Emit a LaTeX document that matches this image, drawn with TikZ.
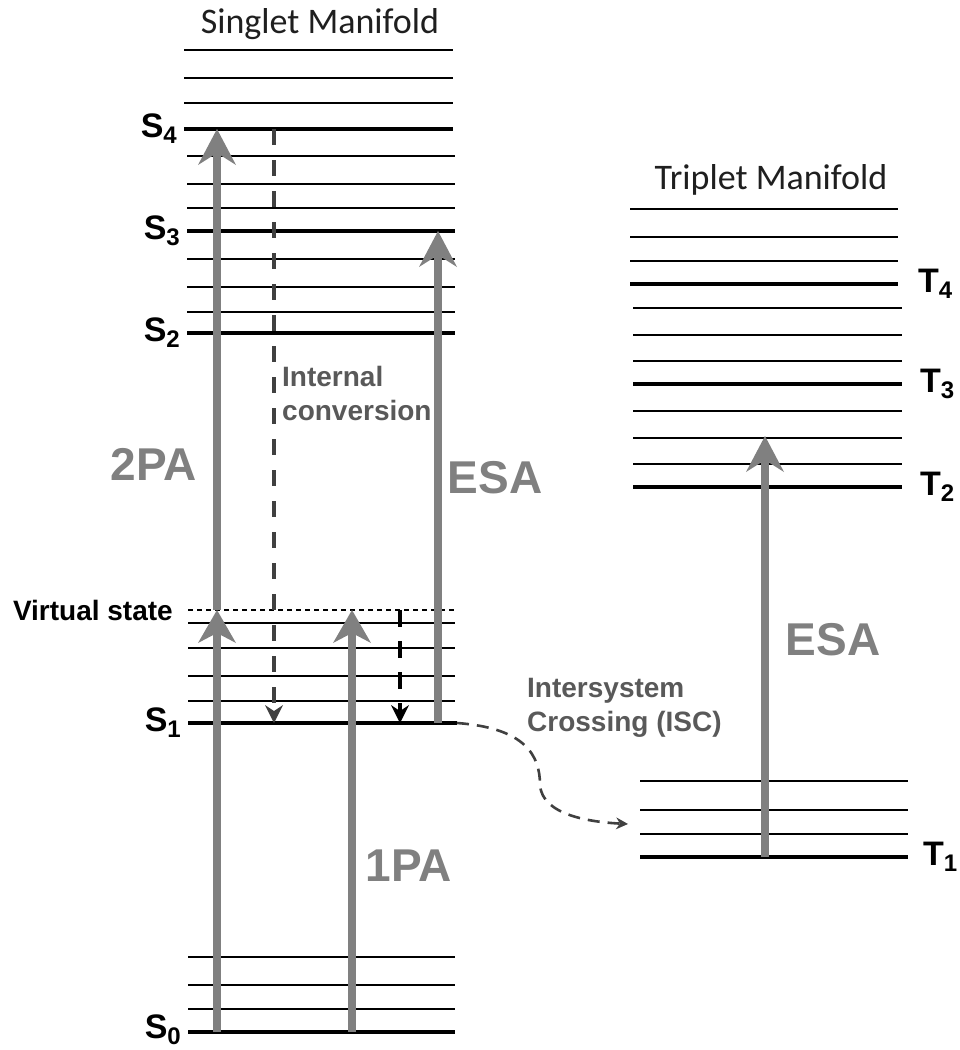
\documentclass[tikz,border=0pt]{standalone}
\usepackage{fontspec}
\setmainfont{Liberation Sans}
\newfontfamily\titlefont{Carlito}
\usetikzlibrary{arrows.meta,positioning}
\definecolor{arrowgray}{RGB}{128,128,128}
\definecolor{dashgray}{RGB}{64,64,64}
\definecolor{notegray}{RGB}{89,89,89}
\newcommand\lvlsub[1]{\raisebox{-6pt}{\fontsize{24}{24}\selectfont #1}}

\begin{document}
\begin{tikzpicture}[x=1pt, y=-1pt,
  sublevel/.style={line width=1.4pt},
  mainlevel/.style={line width=4pt},
  virtlevel/.style={line width=1.1pt, dash pattern=on 5pt off 4pt},
  absorb/.style={draw=arrowgray, line width=8pt,
    -{Stealth[length=36pt, width=38pt, inset=12pt, line width=0pt]}},
  absorbshort/.style={absorb,
    -{Stealth[length=33pt, width=38pt, inset=10pt, line width=0pt]}},
  relax/.style={draw=dashgray, line width=4.5pt, dash pattern=on 16pt off 15pt,
    -{Stealth[length=18pt, width=18pt, inset=6pt, line width=0pt]}},
  relaxshort/.style={relax, draw=black, dash pattern=on 17pt off 14pt},
  crossing/.style={draw=dashgray, line width=2.6pt, dash pattern=on 12pt off 8pt,
    -{Stealth[length=12pt, width=12pt, line width=0pt]}},
  lvllbl/.style={font=\bfseries\fontsize{34}{34}\selectfont, inner sep=0pt},
  title/.style={font=\titlefont\fontsize{36}{40}\selectfont, text=black!88},
  bigtag/.style={font=\bfseries\fontsize{46}{46}\selectfont, text=arrowgray},
  note/.style={font=\bfseries\fontsize{28}{34}\selectfont, text=notegray,
    align=left, inner sep=0pt, anchor=north west},
]
\useasboundingbox (0,0) rectangle (960,1050);

% Singlet manifold
\node[title] (singtitle) at (320,24) {Singlet Manifold};
\foreach \y in {50,78,103}
  \draw[sublevel] (184,\y) -- (453,\y);
\draw[mainlevel] (184,129) coordinate (s4l) -- (453,129) coordinate (s4r);
\foreach \y in {156,184,208}
  \draw[sublevel] (187,\y) -- (455,\y);
\draw[mainlevel] (187,231) coordinate (s3l) -- (455,231) coordinate (s3r);
\foreach \y in {259,287,312}
  \draw[sublevel] (187,\y) -- (455,\y);
\draw[mainlevel] (187,333) coordinate (s2l) -- (455,333) coordinate (s2r);
\draw[virtlevel] (188,610) coordinate (vsl) -- (457,610) coordinate (vsr);
\foreach \y in {623,648,676,701}
  \draw[sublevel] (188,\y) -- (455,\y);
\draw[mainlevel] (188,723) coordinate (s1l) -- (457,723) coordinate (s1r);
\foreach \y in {957,985,1009}
  \draw[sublevel] (188,\y) -- (455,\y);
\draw[mainlevel] (188,1032) coordinate (s0l) -- (455,1032) coordinate (s0r);

\node[lvllbl, left=7pt of s4l] (s4lbl) {S\lvlsub{4}};
\node[lvllbl, left=7pt of s3l] (s3lbl) {S\lvlsub{3}};
\node[lvllbl, left=7pt of s2l] (s2lbl) {S\lvlsub{2}};
\node[lvllbl, left=7pt of s1l] (s1lbl) {S\lvlsub{1}};
\node[lvllbl, left=7pt of s0l, yshift=2pt] (s0lbl) {S\lvlsub{0}};
\node[lvllbl, font=\bfseries\fontsize{28}{28}\selectfont, left=15pt of vsl] (vslbl) {Virtual state};

% Triplet manifold
\node[title] (triptitle) at (771,180) {Triplet Manifold};
\foreach \y in {209,237,261}
  \draw[sublevel] (630,\y) -- (898,\y);
\draw[mainlevel] (630,284) coordinate (t4l) -- (898,284) coordinate (t4r);
\foreach \y in {308,335,361}
  \draw[sublevel] (633,\y) -- (902,\y);
\draw[mainlevel] (633,384) coordinate (t3l) -- (902,384) coordinate (t3r);
\foreach \y in {411,438,464}
  \draw[sublevel] (633,\y) -- (902,\y);
\draw[mainlevel] (633,487) coordinate (t2l) -- (902,487) coordinate (t2r);
\foreach \y in {781,810,834}
  \draw[sublevel] (640,\y) -- (908,\y);
\draw[mainlevel] (640,857) coordinate (t1l) -- (908,857) coordinate (t1r);

\node[lvllbl, right=20pt of t4r] (t4lbl) {T\lvlsub{4}};
\node[lvllbl, right=18pt of t3r] (t3lbl) {T\lvlsub{3}};
\node[lvllbl, right=18pt of t2r] (t2lbl) {T\lvlsub{2}};
\node[lvllbl, right=15pt of t1r] (t1lbl) {T\lvlsub{1}};

% arrow end points
\coordinate (tpa0) at (217,1032);
\coordinate (tpav) at (217,610);
\coordinate (tpa4) at (217,129);
\coordinate (opa0) at (352,1032);
\coordinate (opav) at (352,610);
\coordinate (esa1) at (438,723);
\coordinate (esa3) at (438,231);
\coordinate (ic4)  at (274,129);
\coordinate (ic1)  at (274,723);
\coordinate (vr0)  at (400,610);
\coordinate (vr1)  at (400,723);
\coordinate (tesa1) at (765,857);
\coordinate (tesa2) at (765,436);
\coordinate (iscmid) at (540,785);
\coordinate (iscend) at (628,824);

% absorption arrows
\draw[absorbshort] (tpa0) -- (tpav);
\draw[absorb] (tpav) -- (tpa4);
\draw[absorbshort] (opa0) -- (opav);
\draw[absorb] (esa1) -- (esa3);
\draw[absorb] (tesa1) -- (tesa2);

% relaxation
\draw[relax] (ic4) -- (ic1);
\draw[relaxshort] (vr0) -- (vr1);
\draw[crossing] (s1r) .. controls (525,728) and (540,755) .. (iscmid)
  .. controls (542,815) and (590,822) .. (iscend);

% labels
\node[bigtag] (tpalbl) at (154,464) {2PA};
\node[bigtag] (esalbl) at (495,478) {ESA};
\node[bigtag] (opalbl) at (409,866) {1PA};
\node[bigtag] (tesalbl) at (833,640) {ESA};
\node[note] (iclbl) at (282,366) {Internal\\conversion};
\node[note] (isclbl) at (527,678) {Intersystem\\Crossing (ISC)};
\end{tikzpicture}
\end{document}
